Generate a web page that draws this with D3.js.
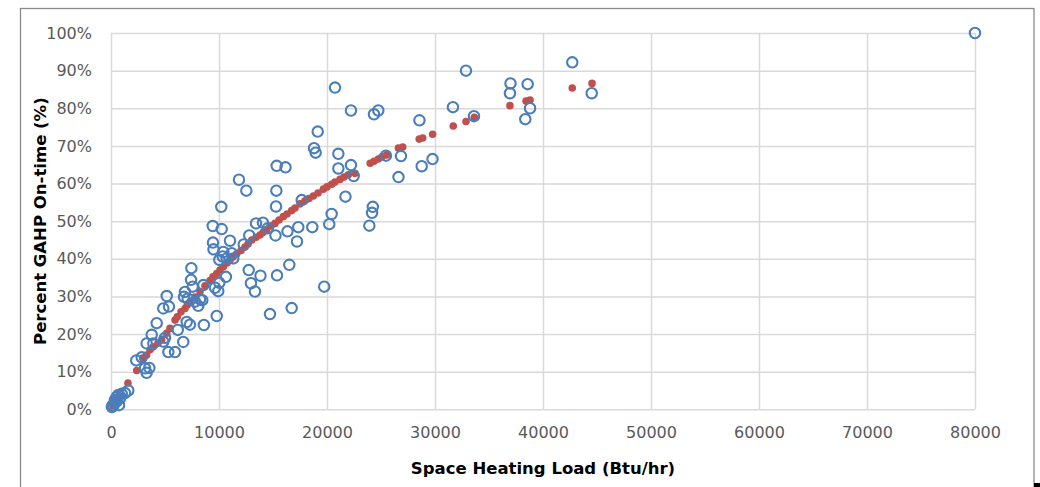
<!DOCTYPE html>
<html><head><meta charset="utf-8">
<script src="https://cdn.jsdelivr.net/npm/d3@7"></script>
<style>
html,body{margin:0;padding:0;background:#fff;}
svg{display:block;}
</style></head>
<body>
<svg id="chart" width="1040" height="487"></svg>
<script>
// Tick labels
const xTicks = [0,10000,20000,30000,40000,50000,60000,70000,80000];
const yTicks = [0,10,20,30,40,50,60,70,80,90,100];

// Measured: Space heating load (Btu/hr) and percent on-time (%)
const measuredLoad = [80000,42710,32870,20740,36990,38580,36940,44510,38800,31660,22220,24350,24750,38360,33610,28560,19140,18800,18950,21050,25460,26850,29770,28770,15340,16160,21050,22220,22470,11850,26620,12530,15310,21710,17660,10210,15280,20430,24240,24170,20210,23920,9420,10250,13430,14070,14510,12800,15230,16340,17340,18640,17220,9440,9490,11020,12290,10400,10340,10710,11180,11320,10030,7440,12750,13840,15370,16510,12960,13330,10640,10030,9630,9930,8550,7410,7560,6850,7100,7780,8080,8450,7010,7310,8600,9790,14720,16730,19740,5160,4840,5370,4230,3770,3300,3920,4840,5000,6180,6690,5310,5930,2340,2840,3150,3550,3300,1600,150,370,680,830,530,990,210,370,90,560,1300,740,6760,8240];
const measuredPct  = [100,92.2,90.0,85.5,86.6,86.4,84.0,84.0,80.0,80.3,79.4,78.4,79.4,77.1,77.9,76.8,73.8,69.4,68.2,67.9,67.4,67.3,66.5,64.6,64.7,64.3,64.0,64.9,62.0,61.0,61.7,58.1,58.1,56.5,55.6,53.8,53.9,51.9,53.8,52.2,49.2,48.8,48.7,47.9,49.4,49.6,48.1,46.2,46.2,47.3,48.4,48.4,44.6,44.3,42.5,44.8,43.8,41.8,40.6,40.1,41.5,40.1,39.7,37.5,37.0,35.5,35.6,38.4,33.5,31.3,35.2,33.6,32.3,31.4,33.0,34.4,32.6,31.2,29.4,28.6,27.5,29.0,23.2,22.5,22.4,24.8,25.3,26.9,32.6,30.1,26.8,27.3,22.9,19.8,17.5,17.5,18.0,19.0,21.1,17.9,15.2,15.2,13.0,13.8,10.9,11.0,9.7,5.0,1.0,1.7,3.8,2.9,3.3,4.1,0.9,2.5,0.6,2.2,4.3,1.1,29.9,29.2];

// Predicted: load (Btu/hr) and percent on-time (%)
const predictedLoad = [185,370,650,1570,2380,2930,3300,3610,3920,4350,4690,5160,5460,5930,6140,6480,6850,7060,7310,7780,8240,8700,9170,9440,9790,10090,10400,10740,11020,11300,11640,12040,12410,12690,13030,13430,13800,14070,14420,14810,15190,15560,15950,16300,16730,17040,17500,17960,18330,18730,19170,19660,20000,20430,20740,21200,21570,21970,22590,24000,24350,24750,25090,25530,26620,27010,28540,28860,29780,31690,32870,33640,36940,38430,38800,42710,44540];
const predictedPct  = [0.9,1.7,3.0,7.0,10.3,13.6,14.4,15.8,16.6,17.6,18.4,20.2,21.5,23.7,24.6,25.9,26.8,27.7,28.6,29.8,31.3,32.8,34.2,35.2,36.1,37.0,37.9,38.9,39.7,40.5,41.3,42.2,43.1,43.9,45.0,45.7,46.3,47.0,47.8,48.7,49.4,50.3,51.2,51.9,52.8,53.5,54.6,55.4,56.0,56.7,57.5,58.5,59.1,59.8,60.4,61.1,61.7,62.3,62.7,65.4,65.9,66.5,67.1,67.6,69.4,69.7,71.8,72.1,73.1,75.3,76.5,77.6,80.7,81.9,82.2,85.4,86.6];

const xTitle = "Space Heating Load (Btu/hr)";
const yTitle = "Percent GAHP On-time (%)";

const svg = d3.select("#chart");
const plot = {left:111, right:975, top:33, bottom:409.3};

// outer chart border
svg.append("rect").attr("x",20.5).attr("y",8.5).attr("width",1013.5).attr("height",490)
  .attr("fill","#fff").attr("stroke","#8a8a8a").attr("stroke-width",1.3);
svg.append("rect").attr("x",1034).attr("y",483).attr("width",6).attr("height",4).attr("fill","#000");

const x = d3.scaleLinear().domain([0,80000]).range([plot.left, plot.right]);
const y = d3.scaleLinear().domain([0,100]).range([plot.bottom, plot.top]);

// gridlines
const gx = svg.append("g").attr("transform",`translate(0,${plot.bottom})`)
  .call(d3.axisBottom(x).tickValues(xTicks).tickSize(-(plot.bottom-plot.top)).tickFormat(""));
gx.select(".domain").remove();
gx.selectAll("line").attr("stroke","#d9d9d9").attr("stroke-width",1.5);

const gy = svg.append("g").attr("transform",`translate(${plot.left},0)`)
  .call(d3.axisLeft(y).tickValues(yTicks).tickSize(-(plot.right-plot.left)).tickFormat(""));
gy.select(".domain").remove();
gy.selectAll("line").attr("stroke","#d9d9d9").attr("stroke-width",1.5);

// tick labels
const xl = svg.append("g").attr("transform",`translate(0,${plot.bottom})`)
  .call(d3.axisBottom(x).tickValues(xTicks).tickSize(0).tickPadding(17).tickFormat(d3.format("d")));
xl.select(".domain").remove();
xl.selectAll("text").attr("font-family","DejaVu Sans, sans-serif").attr("font-size",16).attr("fill","#595959");

const yl = svg.append("g").attr("transform",`translate(${plot.left},0)`)
  .call(d3.axisLeft(y).tickValues(yTicks).tickSize(0).tickPadding(19).tickFormat(d => d + "%"));
yl.select(".domain").remove();
yl.selectAll("text").attr("font-family","DejaVu Sans, sans-serif").attr("font-size",16).attr("fill","#595959");

// predicted (red dots)
svg.append("g").selectAll("circle")
  .data(predictedLoad.map((v,i)=>[v,predictedPct[i]]))
  .join("circle")
  .attr("cx",d=>x(d[0])).attr("cy",d=>y(d[1])).attr("r",3.8)
  .attr("fill","#c0504d");

// measured (blue open circles)
svg.append("g").selectAll("circle")
  .data(measuredLoad.map((v,i)=>[v,measuredPct[i]]))
  .join("circle")
  .attr("cx",d=>x(d[0])).attr("cy",d=>y(d[1])).attr("r",5.2)
  .attr("fill","none").attr("stroke","#4a7ebb").attr("stroke-width",2.1);

// axis titles
svg.append("text").attr("x",(plot.left+plot.right)/2).attr("y",474)
  .attr("text-anchor","middle").attr("font-family","DejaVu Sans, sans-serif")
  .attr("font-weight","bold").attr("font-size",16.5).attr("fill","#000").text(xTitle);

svg.append("text").attr("transform",`translate(46,${(plot.top+plot.bottom)/2}) rotate(-90)`)
  .attr("text-anchor","middle").attr("font-family","DejaVu Sans, sans-serif")
  .attr("font-weight","bold").attr("font-size",16.5).attr("fill","#000").text(yTitle);
</script>
</body></html>
